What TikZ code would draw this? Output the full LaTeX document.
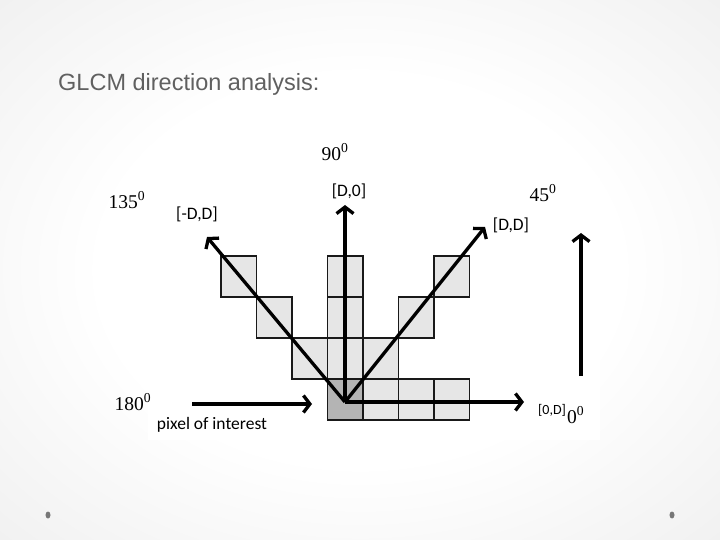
\documentclass[tikz,border=0pt]{standalone}
\usepackage{fontspec}
\setmainfont{Liberation Serif}
\newfontfamily\titlefam{Liberation Sans}
\newfontfamily\offsetfam{Carlito}
\usetikzlibrary{arrows.meta}
\definecolor{cellfill}{HTML}{E6E6E6}
\definecolor{poifill}{HTML}{B4B4B4}
\definecolor{titlegray}{HTML}{606060}
\definecolor{slideedge}{HTML}{D4D4D4}
\definecolor{dotgray}{HTML}{777777}
\pgfdeclareradialshading{slidebg}{\pgfpoint{0bp}{0bp}}{color(0bp)=(white); color(18bp)=(white); color(50bp)=(slideedge!60!white); color(72bp)=(slideedge)}
\newcommand{\anglefont}{\fontsize{19.5}{21}\selectfont}
\newcommand{\offsetfont}{\offsetfam\fontsize{17.5}{19}\selectfont}
\newcommand{\pixelcell}[3]{
    % One pixel of the grid: column, row, fill
    \draw[cellline, fill=#3] ({221+35.5*#1}, {256+41*#2}) rectangle ++(35.5,41);
}

\begin{document}
\begin{tikzpicture}[x=1pt, y=-1pt,
    cellline/.style={draw=black!90, line width=1.4pt},
    dirarrow/.style={line width=3.3pt, -{Straight Barb[length=6.5pt, width=17pt]}},
    anglelabel/.style={font=\anglefont, inner sep=0pt},
    offsetlabel/.style={font=\offsetfont, inner sep=0pt}]

    % Slide background
    \useasboundingbox (0,0) rectangle (720,540);
    \shade[shading=slidebg] (0,0) rectangle (720,540);
    \fill[white] (148,178) rectangle (600,440);

    % Title
    \node[anchor=base west, inner sep=0pt, text=titlegray, font=\titlefam\fontsize{23.5}{26}\selectfont] (title) at (58,91) {GLCM direction analysis:};

    % Slide footer dots
    \fill[dotgray] (48,515) ellipse (2.5 and 3.5);
    \fill[dotgray] (672,515) ellipse (2.5 and 3.5);

    % Pixel grid
    \foreach \c/\r in {0/0, 1/1, 2/2, 3/0, 3/1, 3/2, 4/2, 5/1, 6/0, 4/3, 5/3, 6/3}
        \pixelcell{\c}{\r}{cellfill};
    \pixelcell{3}{3}{poifill};

    % Direction arrows from the pixel of interest
    \coordinate (origin) at (345,402);
    \coordinate (tip135) at (207,237);
    \coordinate (tip90) at (345,205);
    \coordinate (tip45) at (485,227);
    \coordinate (tip0) at (524,402);
    \draw[dirarrow] (origin) -- (tip135);
    \draw[dirarrow] (origin) -- (tip90);
    \draw[dirarrow] (origin) -- (tip45);
    \draw[dirarrow] (origin) -- (tip0);

    % Lone arrow on the right
    \coordinate (upstart) at (581,376);
    \coordinate (upend) at (581,233);
    \draw[dirarrow] (upstart) -- (upend);

    % Pointer to the pixel of interest
    \coordinate (poistart) at (192,404);
    \coordinate (poiend) at (312,404);
    \draw[dirarrow] (poistart) -- (poiend);

    % Angle labels
    \node[anglelabel] (a90) at (335,152) {90\textsuperscript{0}};
    \node[anglelabel] (a135) at (127,200) {135\textsuperscript{0}};
    \node[anglelabel] (a45) at (543,193) {45\textsuperscript{0}};
    \node[anglelabel] (a180) at (133,402) {180\textsuperscript{0}};

    % Offset labels
    \node[offsetlabel] (d90) at (349,191) {[D,0]};
    \node[offsetlabel] (d135) at (197,214) {[-D,D]};
    \node[offsetlabel] (d45) at (511,225) {[D,D]};
    \node[offsetlabel, font=\offsetfam\fontsize{14}{16}\selectfont] (d0) at (552,410) {[0,D]};
    \node[anglelabel, anchor=base west] (a0) at (567,423) {0\textsuperscript{0}};
    \node[offsetlabel] (poi) at (212,425) {pixel of interest};
\end{tikzpicture}
\end{document}
